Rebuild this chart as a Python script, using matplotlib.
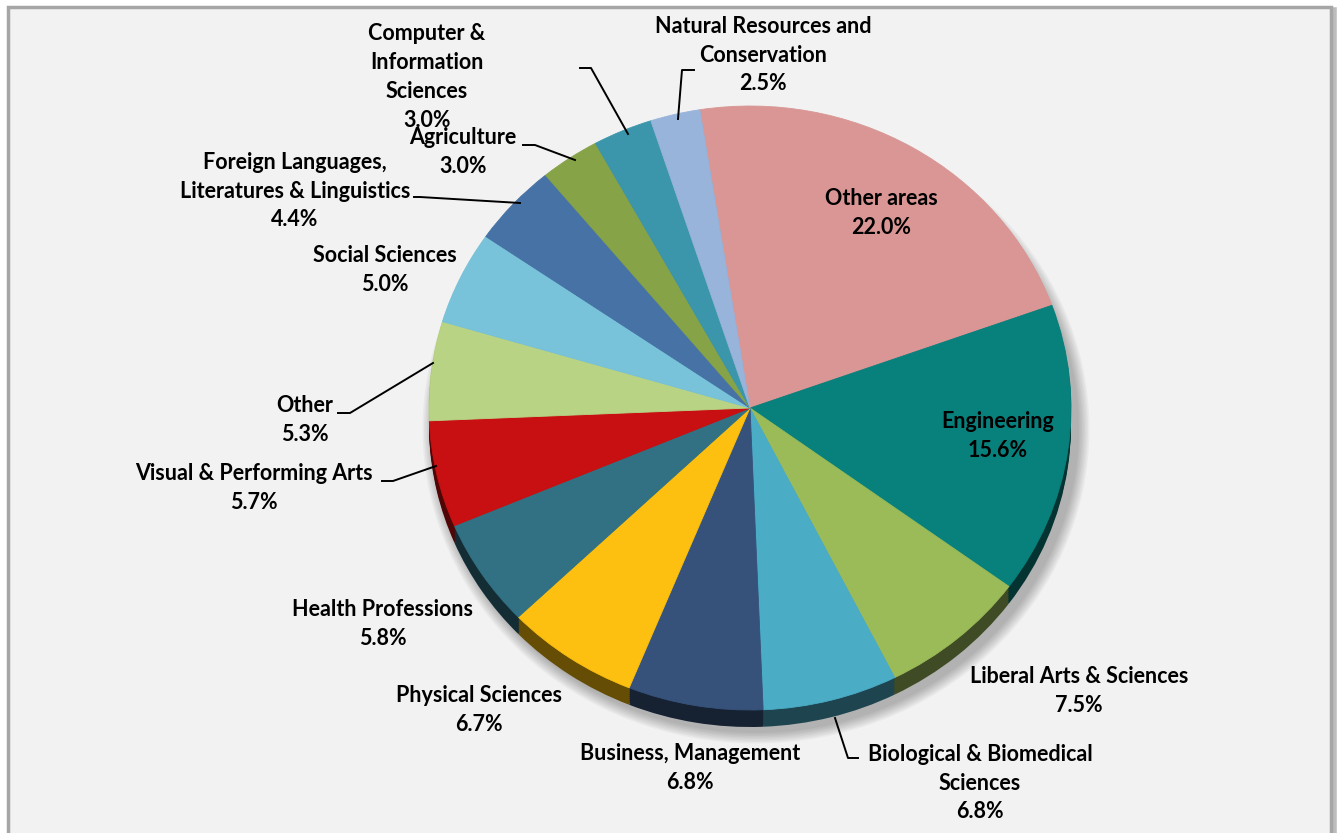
import numpy as np
import matplotlib.pyplot as plt
from matplotlib.patches import Ellipse, Rectangle
from matplotlib.colors import to_rgb

# Share of degrees by field, clockwise from the top
fields = ["Other areas", "Engineering", "Liberal Arts & Sciences",
          "Biological & Biomedical\nSciences", "Business, Management",
          "Physical Sciences", "Health Professions", "Visual & Performing Arts",
          "Other", "Social Sciences",
          "Foreign Languages,\nLiteratures & Linguistics", "Agriculture",
          "Computer &\nInformation\nSciences", "Natural Resources and\nConservation"]
shares = [22.0, 15.6, 7.5, 6.8, 6.8, 6.7, 5.8, 5.7, 5.3, 5.0, 4.4, 3.0, 3.0, 2.5]
colors = ["#D99694", "#08817D", "#9BBB59", "#4BACC6", "#36527A", "#FDC010",
          "#317183", "#C81012", "#B8D384", "#78C3D9", "#4672A5", "#86A348",
          "#3C96AB", "#98B4DA"]

# label centres (pixels) and leader lines
label_xy = [(881, 213), (998, 436), (1079, 691), (980, 783), (690, 768),
            (479, 710), (383, 624), (254, 488), (305, 420), (385, 270),
            (295, 191), (463, 152), (427, 77), (763, 55)]
leaders = [
    [(835, 718), (848, 758), (858, 758)],
    [(433, 363), (350, 413), (338, 413)],
    [(436, 466), (393, 481), (382, 481)],
    [(520, 203), (420, 197), (414, 197)],
    [(575, 160), (535, 145), (523, 145)],
    [(628, 134), (591, 68), (580, 68)],
    [(678, 119), (682, 70), (694, 70)],
]

W, H = 1338, 833
cx, cy = 750, 408     # pie centre, pixels
rx, ry = 321, 302     # top face radii
depth = 17
k = ry / rx

def P(x, y):
    return (x, (H - y) / k)

fig = plt.figure(figsize=(W / 100, H / 100), dpi=100)
fig.patch.set_facecolor("white")
fig.add_artist(Rectangle((11 / W, -0.05), 1323 / W, 1 - 10 / H + 0.05,
                         transform=fig.transFigure, fc="none", ec="#BDBDBD", lw=4,
                         zorder=-10))
fig.add_artist(Rectangle((8 / W, -0.05), 1323 / W, 1 - 7 / H + 0.05,
                         transform=fig.transFigure, fc="#F2F2F2", ec="#A6A6A6", lw=2.5,
                         zorder=-9))

ax = fig.add_axes([0, 0, 1, 1])
ax.patch.set_alpha(0)

# soft shadow
for i in range(8):
    e = Ellipse(P(cx + 6, cy + depth + 4), 2 * rx + 4 + 3 * i, (2 * ry + 4 + 3 * i) / k,
                fc="#000000", alpha=0.035, lw=0, zorder=0)
    ax.add_patch(e)

# side wall
dark = [tuple(c * 0.4 for c in to_rgb(col)) for col in colors]
for d in range(depth, 0, -2):
    ax.pie(shares, colors=dark, startangle=99, counterclock=False, radius=rx,
           center=P(cx, cy + d), wedgeprops=dict(lw=0.6, edgecolor="none"))

# top face
wedges, _ = ax.pie(shares, colors=colors, startangle=99, counterclock=False, radius=rx,
                   center=P(cx, cy), wedgeprops=dict(lw=0.6))
for w, c in zip(wedges, colors):
    w.set_edgecolor(c)

for name, v, (x, y) in zip(fields, shares, label_xy):
    ax.text(*P(x, y), f"{name}\n{v:.1f}%", ha="center", va="center",
            multialignment="center", fontsize=15.5, fontweight="bold",
            family="Lato", linespacing=1.47, color="black", zorder=5)

for pts in leaders:
    xs, ys = zip(*[P(x, y) for x, y in pts])
    ax.plot(xs, ys, color="black", lw=1.4, zorder=4)

ax.set_aspect("auto")
ax.set_xlim(0, W)
ax.set_ylim(0, H / k)
ax.axis("off")

fig.savefig("out.png", dpi=100, facecolor="white")
